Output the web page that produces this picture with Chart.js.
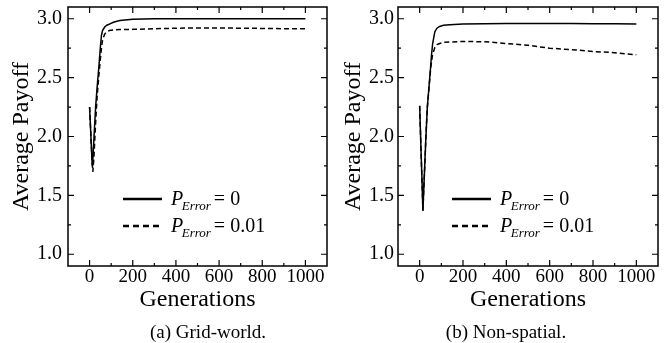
<!DOCTYPE html>
<html>
<head>
<meta charset="utf-8">
<script src="https://cdn.jsdelivr.net/npm/chart.js@4.4.0/dist/chart.umd.min.js"></script>
<style>
  body { margin: 0; background: #fff; }
  #wrap { position: relative; width: 668px; height: 343px; }
  .panel { position: absolute; top: 0; width: 334px; height: 343px; }
  .cap {
    position: absolute; top: 322px; line-height: 19px;
    font-family: "Liberation Serif", "Times New Roman", serif; font-size: 19px;
    color: #000; white-space: nowrap; transform: translateX(-50%);
  }
</style>
</head>
<body>
<div id="wrap">
  <div class="panel" style="left:0"><canvas id="gridChart"></canvas></div>
  <div class="panel" style="left:334px"><canvas id="nsChart"></canvas></div>
  <div class="cap" style="left:208px">(a) Grid-world.</div>
  <div class="cap" style="left:506px">(b) Non-spatial.</div>
</div>
<script>
// Datos (generaciones vs pago medio)
const generations = [0, 5, 12, 15, 20, 28, 35, 43, 50, 55, 60, 70, 80, 92, 110, 140, 200, 300, 400, 500, 600, 700, 800, 900, 1000];

// (a) Grid-world
const gridNoError = [2.25, 2.05, 1.76, 1.80, 1.98, 2.25, 2.42, 2.59, 2.76, 2.86, 2.90, 2.93, 2.945, 2.955, 2.97, 2.985, 2.995, 3.0, 3.0, 3.0, 3.0, 3.0, 3.0, 3.0, 3.0];
const gridError = [2.25, 2.05, 1.78, 1.70, 1.82, 2.12, 2.34, 2.52, 2.66, 2.75, 2.82, 2.87, 2.89, 2.90, 2.905, 2.908, 2.91, 2.915, 2.92, 2.922, 2.922, 2.92, 2.918, 2.916, 2.915];

// (b) Non-spatial
const nsNoError = [2.26, 1.96, 1.55, 1.37, 1.60, 1.96, 2.24, 2.42, 2.58, 2.70, 2.79, 2.89, 2.92, 2.935, 2.945, 2.95, 2.955, 2.958, 2.96, 2.96, 2.96, 2.96, 2.958, 2.957, 2.956];
const nsError = [2.26, 1.96, 1.55, 1.37, 1.60, 1.96, 2.24, 2.41, 2.56, 2.64, 2.70, 2.755, 2.78, 2.79, 2.80, 2.803, 2.807, 2.805, 2.79, 2.775, 2.75, 2.738, 2.722, 2.712, 2.694];

const pErrors = ['0', '0.01'];

// Marcas de los ejes
const xTicks = [0, 200, 400, 600, 800, 1000];
const xMinor = [0, 100, 200, 300, 400, 500, 600, 700, 800, 900, 1000];
const yTicks = [1.0, 1.5, 2.0, 2.5, 3.0];
const yMinor = [1.0, 1.25, 1.5, 1.75, 2.0, 2.25, 2.5, 2.75, 3.0];

const serif = '"Liberation Serif", "Times New Roman", serif';
Chart.defaults.font.family = serif;
Chart.defaults.color = '#000';

// Marco con marcas hacia dentro en los cuatro lados
const marcoPlugin = {
  id: 'marco',
  afterDatasetsDraw(chart) {
    const { ctx, chartArea: a, scales: { x, y } } = chart;
    ctx.save();
    ctx.strokeStyle = '#000';
    ctx.lineWidth = 1.5;
    ctx.strokeRect(a.left, a.top, a.width, a.height);
    ctx.lineWidth = 1.2;
    ctx.beginPath();
    xMinor.forEach(v => {
      const p = x.getPixelForValue(v);
      const len = xTicks.includes(v) ? 6 : 3;
      ctx.moveTo(p, a.bottom); ctx.lineTo(p, a.bottom - len);
      ctx.moveTo(p, a.top); ctx.lineTo(p, a.top + len);
    });
    yMinor.forEach(v => {
      const p = y.getPixelForValue(v);
      const len = yTicks.includes(v) ? 6 : 3;
      ctx.moveTo(a.left, p); ctx.lineTo(a.left + len, p);
      ctx.moveTo(a.right, p); ctx.lineTo(a.right - len, p);
    });
    ctx.stroke();
    ctx.restore();
  }
};

// Leyenda con subíndice P_Error
const leyendaPlugin = {
  id: 'leyenda',
  afterDraw(chart, args, opts) {
    const { ctx, chartArea: a } = chart;
    const x0 = a.left + opts.dx;
    ctx.save();
    ctx.fillStyle = '#000';
    ctx.strokeStyle = '#000';
    ctx.textBaseline = 'alphabetic';
    pErrors.forEach((pe, i) => {
      const y = a.top + 192 + i * 27;
      ctx.lineWidth = 2.5;
      ctx.setLineDash(i ? [6, 4] : []);
      ctx.beginPath();
      ctx.moveTo(x0, y); ctx.lineTo(x0 + 39, y);
      ctx.stroke();
      ctx.setLineDash([]);
      const base = y + 5.5;
      let cx = x0 + 48;
      ctx.font = 'italic 20px ' + serif;
      ctx.fillText('P', cx, base);
      cx += ctx.measureText('P').width - 1.5;
      ctx.font = 'italic 13px ' + serif;
      ctx.fillText('Error', cx, base + 5);
      cx += ctx.measureText('Error').width + 3;
      ctx.font = '20px ' + serif;
      ctx.fillText('= ' + pe, cx, base);
    });
    ctx.restore();
  }
};

function puntos(vals) {
  return generations.map((g, i) => ({ x: g, y: vals[i] }));
}

function crearGrafica(id, solida, discontinua, cfg) {
  const ctx = document.getElementById(id).getContext('2d');
  return new Chart(ctx, {
    type: 'line',
    data: {
      datasets: [{
        label: 'P_Error = 0',
        data: puntos(solida),
        borderColor: '#000',
        borderWidth: 1.5,
        pointRadius: 0,
        tension: 0
      }, {
        label: 'P_Error = 0.01',
        data: puntos(discontinua),
        borderColor: '#000',
        borderWidth: 1.5,
        borderDash: [5, 3],
        pointRadius: 0,
        tension: 0
      }]
    },
    options: {
      responsive: true,
      maintainAspectRatio: false,
      animation: false,
      layout: { padding: { top: 7, right: cfg.padRight, left: 0, bottom: 0 } },
      plugins: {
        legend: { display: false },
        tooltip: { enabled: false },
        leyenda: { dx: cfg.legendDx }
      },
      scales: {
        x: {
          type: 'linear',
          min: -100,
          max: 1100,
          afterBuildTicks: s => { s.ticks = xTicks.map(v => ({ value: v })); },
          afterFit: s => { s.height = 77; s.paddingLeft = 0; s.paddingRight = 0; },
          ticks: { font: { size: 19 }, color: '#000', padding: 0, maxRotation: 0, autoSkip: false, callback: v => String(v) },
          grid: { display: false, drawTicks: false },
          border: { display: false },
          title: { display: true, text: 'Generations', font: { size: 24 }, color: '#000', padding: { top: 0, bottom: 29 } }
        },
        y: {
          type: 'linear',
          min: 0.9,
          max: 3.1,
          afterBuildTicks: s => { s.ticks = yTicks.map(v => ({ value: v })); },
          afterFit: s => { s.width = cfg.yWidth; s.paddingTop = 0; s.paddingBottom = 0; },
          ticks: { font: { size: 20 }, color: '#000', padding: cfg.yPad, callback: v => v.toFixed(1) },
          grid: { display: false, drawTicks: false },
          border: { display: false },
          title: { display: true, text: 'Average Payoff', font: { size: 24 }, color: '#000', padding: { top: cfg.titlePad, bottom: 0 } }
        }
      }
    },
    plugins: [marcoPlugin, leyendaPlugin]
  });
}

crearGrafica('gridChart', gridNoError, gridError, { yWidth: 68, padRight: 7, yPad: 6, titlePad: 7, legendDx: 55 });
crearGrafica('nsChart', nsNoError, nsError, { yWidth: 64, padRight: 10, yPad: 4, titlePad: 5, legendDx: 54 });
</script>
</body>
</html>
